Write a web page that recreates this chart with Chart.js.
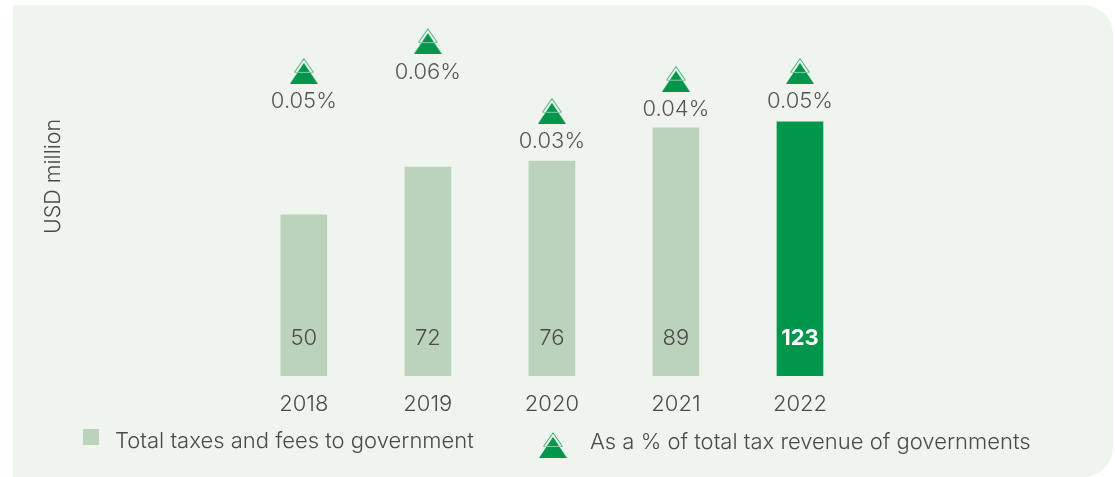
<!DOCTYPE html>
<html>
<head>
<meta charset="utf-8">
<script src="https://cdn.jsdelivr.net/npm/chart.js@4"></script>
<style>
  html, body { margin: 0; padding: 0; background: #fff; }
  #wrap { position: relative; width: 1115px; height: 477px; overflow: hidden; }
  #panel { position: absolute; left: 13px; top: 5px; width: 1100px; height: 472px;
           background: #eff4ef; border-radius: 0 30px 30px 0; }
  /* canvas starts above the page so the axis title centres at the right height */
  #myChart { position: absolute; left: 0; top: -28px; }
  .lg { position: absolute; font: 300 22px Inter, sans-serif; color: #4a4a4a; white-space: nowrap; line-height: 24px; }
  #swatch { position: absolute; left: 83px; top: 429px; width: 16px; height: 16px; background: #bbd3bb; }
  #lgTri { position: absolute; left: 539px; top: 432px; }
</style>
</head>
<body>
<div id="wrap">
  <div id="panel"></div>
  <canvas id="myChart" width="1115" height="505"></canvas>
  <div id="swatch"></div>
  <span class="lg" id="lg1" style="left:115px;top:428px"></span>
  <span class="lg" id="lg2" style="left:590px;top:429px"></span>
</div>
<script>
const years = ['2018', '2019', '2020', '2021', '2022'];
// printed values
const taxLabels = ['50', '72', '76', '89', '123'];
const percentLabels = ['0.05%', '0.06%', '0.03%', '0.04%', '0.05%'];
// the published bars are not drawn to scale, so these are the heights as drawn
const barLevels = [78, 101, 104, 120, 123];
const markerLevels = [147.6, 162, 128.3, 143.8, 147.6];
const barSeries = 'Total taxes and fees to government';
const markerSeries = 'As a % of total tax revenue of governments';

const lightGreen = '#bbd3bb';
const darkGreen = '#00964b';
const labelFont = 'Inter, sans-serif';

// double triangle marker
function makeTriangle() {
  const c = document.createElement('canvas');
  c.width = 28;
  c.height = 26;
  const ctx = c.getContext('2d');
  ctx.fillStyle = darkGreen;
  ctx.beginPath();
  ctx.moveTo(14, 5);
  ctx.lineTo(28, 26);
  ctx.lineTo(0, 26);
  ctx.closePath();
  ctx.fill();
  ctx.lineWidth = 1;
  ctx.strokeStyle = '#2ea86c';
  ctx.beginPath();
  ctx.moveTo(4.5, 14.5);
  ctx.lineTo(14, 0.8);
  ctx.lineTo(23.5, 14.5);
  ctx.stroke();
  ctx.strokeStyle = '#8cc9a6';
  ctx.beginPath();
  ctx.moveTo(4.5, 14.5);
  ctx.lineTo(23.5, 14.5);
  ctx.stroke();
  return c;
}
const triangle = makeTriangle();

const valueLabels = {
  id: 'valueLabels',
  afterDatasetsDraw(chart) {
    const ctx = chart.ctx;
    const bars = chart.getDatasetMeta(0).data;
    const marks = chart.getDatasetMeta(1).data;
    ctx.save();
    ctx.textAlign = 'center';
    ctx.textBaseline = 'middle';
    bars.forEach((bar, i) => {
      const last = i === bars.length - 1;
      ctx.font = (last ? 'bold ' : '300 ') + '22px ' + labelFont;
      ctx.fillStyle = last ? '#ffffff' : '#4a4a4a';
      ctx.fillText(taxLabels[i], bar.x, chart.chartArea.bottom - 38);
    });
    ctx.font = '300 22px ' + labelFont;
    ctx.fillStyle = '#555555';
    marks.forEach((m, i) => {
      ctx.fillText(percentLabels[i], m.x, m.y + 31);
    });
    ctx.restore();
  }
};

new Chart(document.getElementById('myChart'), {
  type: 'bar',
  data: {
    labels: years,
    datasets: [{
      label: barSeries,
      data: barLevels,
      backgroundColor: [lightGreen, lightGreen, lightGreen, lightGreen, darkGreen],
      barThickness: 46,
      order: 2
    }, {
      type: 'line',
      label: markerSeries,
      data: markerLevels,
      showLine: false,
      pointStyle: triangle,
      order: 1
    }]
  },
  options: {
    responsive: false,
    animation: false,
    layout: { padding: { left: 41, right: 253, top: 0, bottom: 0 } },
    plugins: { legend: { display: false }, tooltip: { enabled: false } },
    scales: {
      x: {
        grid: { display: false },
        border: { display: false },
        ticks: { color: '#4a4a4a', padding: 7, font: { family: labelFont, size: 22, weight: 300 }, maxRotation: 0 },
        afterFit(scale) { scale.height = 101; }
      },
      y: {
        min: 0,
        max: 193,
        grid: { display: false },
        border: { display: false },
        ticks: { display: false },
        title: {
          display: true,
          text: 'USD million',
          color: '#4a4a4a',
          padding: 0,
          font: { family: labelFont, size: 21.5, weight: 300 }
        },
        afterFit(scale) { scale.width = 200.8; }
      }
    }
  },
  plugins: [valueLabels]
});

document.getElementById('lg1').textContent = barSeries;
document.getElementById('lg2').textContent = markerSeries;
const lgTri = makeTriangle();
lgTri.id = 'lgTri';
document.getElementById('wrap').appendChild(lgTri);
</script>
</body>
</html>
